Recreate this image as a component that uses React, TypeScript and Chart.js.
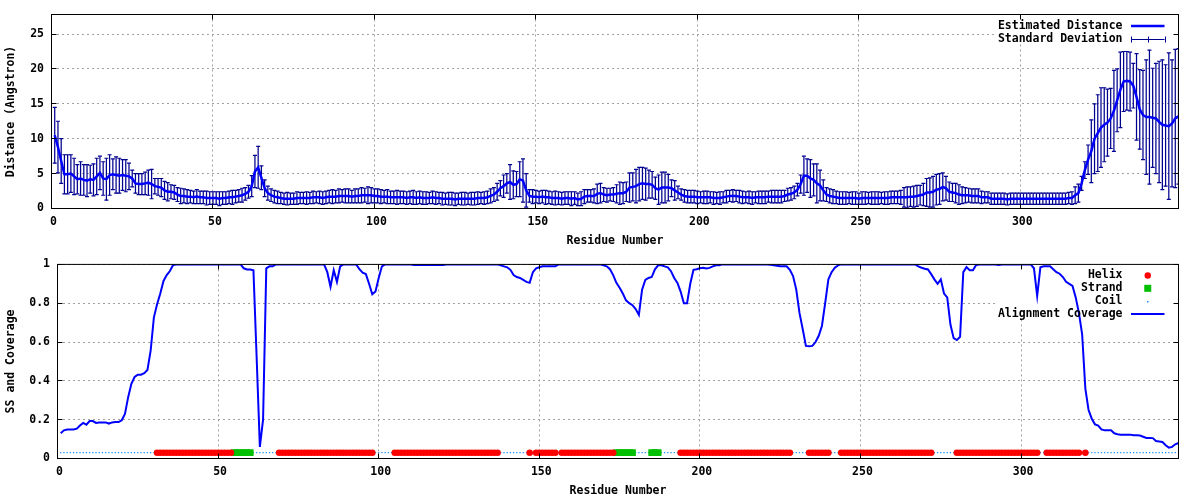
import { useEffect, useRef } from "react";
import { Chart, registerables } from "chart.js";

Chart.register(...registerables);

// ---------- data (residues 1..349) ----------
const distance = [
  10.5, 8.8, 6.8, 4.9, 4.9, 5.0, 4.6, 4.2, 4.3, 4.1, // 1-10
  4.0, 4.2, 4.1, 4.6, 5.1, 4.3, 4.2, 4.8, 4.9, 4.8, // 11-20
  4.7, 4.8, 4.7, 4.6, 4.3, 3.6, 3.5, 3.5, 3.6, 3.7, // 21-30
  3.5, 3.2, 3.1, 3.0, 2.6, 2.4, 2.4, 2.3, 2.0, 1.8, // 31-40
  1.8, 1.7, 1.7, 1.6, 1.7, 1.6, 1.6, 1.5, 1.5, 1.5, // 41-50
  1.5, 1.4, 1.5, 1.5, 1.6, 1.6, 1.7, 1.8, 1.9, 2.1, // 51-60
  2.4, 3.2, 5.3, 5.9, 4.4, 2.9, 2.2, 1.9, 1.7, 1.6, // 61-70
  1.5, 1.4, 1.4, 1.4, 1.4, 1.5, 1.5, 1.5, 1.5, 1.5, // 71-80
  1.6, 1.6, 1.6, 1.5, 1.6, 1.7, 1.7, 1.7, 1.8, 1.8, // 81-90
  1.8, 1.8, 1.7, 1.8, 1.8, 1.9, 1.9, 1.9, 1.9, 1.8, // 91-100
  1.8, 1.7, 1.7, 1.7, 1.6, 1.6, 1.6, 1.6, 1.6, 1.5, // 101-110
  1.6, 1.6, 1.5, 1.6, 1.5, 1.5, 1.5, 1.6, 1.5, 1.5, // 111-120
  1.4, 1.4, 1.4, 1.4, 1.3, 1.4, 1.4, 1.4, 1.4, 1.4, // 121-130
  1.4, 1.5, 1.5, 1.5, 1.6, 1.8, 2.0, 2.4, 2.9, 3.2, // 131-140
  3.6, 3.8, 3.4, 3.5, 4.2, 4.0, 2.6, 1.8, 1.7, 1.7, // 141-150
  1.6, 1.7, 1.6, 1.6, 1.5, 1.5, 1.5, 1.4, 1.5, 1.5, // 151-160
  1.4, 1.5, 1.3, 1.4, 1.7, 1.8, 1.8, 1.8, 2.1, 2.2, // 161-170
  2.0, 1.9, 2.0, 2.0, 2.1, 2.2, 2.2, 2.4, 3.0, 3.1, // 171-180
  3.2, 3.5, 3.6, 3.5, 3.5, 3.4, 2.9, 2.7, 3.0, 3.0, // 181-190
  3.0, 2.9, 2.6, 2.3, 2.0, 1.8, 1.7, 1.7, 1.7, 1.6, // 191-200
  1.6, 1.6, 1.6, 1.6, 1.5, 1.5, 1.5, 1.6, 1.7, 1.8, // 201-210
  1.8, 1.8, 1.7, 1.6, 1.6, 1.6, 1.5, 1.6, 1.6, 1.6, // 211-220
  1.6, 1.7, 1.7, 1.7, 1.7, 1.7, 1.8, 2.0, 2.1, 2.3, // 221-230
  2.7, 3.5, 4.7, 4.7, 4.3, 4.1, 3.6, 3.3, 2.6, 2.0, // 231-240
  1.8, 1.7, 1.6, 1.5, 1.5, 1.5, 1.5, 1.5, 1.5, 1.4, // 241-250
  1.5, 1.5, 1.5, 1.5, 1.5, 1.5, 1.5, 1.5, 1.5, 1.6, // 251-260
  1.6, 1.6, 1.6, 1.6, 1.6, 1.7, 1.7, 1.8, 1.9, 2.0, // 261-270
  2.3, 2.3, 2.4, 2.7, 2.8, 3.1, 2.9, 2.4, 2.3, 2.2, // 271-280
  2.0, 1.9, 1.9, 1.9, 1.8, 1.8, 1.8, 1.6, 1.6, 1.6, // 281-290
  1.4, 1.4, 1.4, 1.4, 1.4, 1.3, 1.4, 1.4, 1.4, 1.4, // 291-300
  1.4, 1.4, 1.4, 1.4, 1.4, 1.4, 1.4, 1.4, 1.4, 1.4, // 301-310
  1.4, 1.4, 1.4, 1.4, 1.5, 1.5, 1.9, 2.2, 3.6, 5.5, // 311-320
  7.0, 8.2, 10.0, 10.8, 11.6, 12.0, 12.3, 12.9, 14.0, 15.5, // 321-330
  17.0, 18.2, 18.3, 18.2, 17.6, 16.0, 14.2, 13.4, 13.1, 13.1, // 331-340
  13.0, 12.9, 12.4, 12.0, 11.9, 11.8, 12.2, 12.9, 13.2, // 341-349
];

const stdDev = [
  4.0, 3.7, 3.2, 2.8, 2.8, 2.7, 2.6, 2.1, 2.4, 2.2, // 1-10
  2.3, 2.0, 2.3, 2.6, 2.4, 2.4, 3.0, 2.9, 2.2, 2.6, // 11-20
  2.5, 2.2, 2.3, 1.9, 1.2, 1.4, 1.5, 1.5, 1.6, 1.8, // 21-30
  2.1, 1.1, 1.2, 1.3, 1.3, 1.3, 1.0, 1.0, 1.0, 1.1, // 31-40
  1.0, 1.0, 0.9, 0.9, 1.0, 0.9, 0.9, 1.0, 0.9, 0.9, // 41-50
  0.9, 1.0, 0.9, 0.9, 0.9, 1.0, 0.9, 0.9, 1.0, 0.9, // 51-60
  0.9, 1.5, 2.3, 3.0, 1.7, 1.2, 1.0, 0.9, 0.9, 0.9, // 61-70
  0.8, 0.8, 0.9, 0.8, 0.8, 0.9, 0.8, 0.8, 0.9, 0.8, // 71-80
  0.9, 0.8, 0.9, 0.9, 0.9, 0.9, 1.0, 0.9, 1.0, 0.9, // 81-90
  1.0, 1.0, 0.9, 1.0, 1.0, 1.1, 1.0, 1.2, 1.1, 1.0, // 91-100
  1.0, 1.0, 0.9, 1.0, 0.9, 0.9, 1.0, 0.9, 0.9, 0.9, // 101-110
  0.9, 1.0, 0.9, 0.9, 0.9, 0.9, 0.8, 0.9, 0.9, 0.8, // 111-120
  0.9, 0.8, 0.9, 0.9, 0.9, 0.8, 0.9, 0.9, 0.8, 0.9, // 121-130
  0.9, 0.9, 0.8, 0.9, 0.9, 1.0, 1.0, 1.2, 1.1, 1.6, // 131-140
  1.4, 2.5, 2.0, 1.8, 2.5, 3.1, 2.4, 0.9, 1.0, 0.9, // 141-150
  0.9, 0.9, 1.0, 0.9, 0.9, 1.0, 0.9, 0.9, 0.9, 0.9, // 151-160
  1.0, 0.9, 0.9, 1.0, 1.0, 0.9, 0.9, 1.0, 1.4, 1.4, // 161-170
  1.0, 1.0, 0.9, 1.0, 1.3, 1.6, 1.5, 1.4, 2.1, 2.0, // 171-180
  2.4, 2.4, 2.3, 2.3, 2.0, 1.9, 1.6, 2.1, 2.2, 2.2, // 181-190
  1.9, 1.2, 1.4, 0.9, 0.8, 0.9, 0.9, 0.9, 0.9, 0.9, // 191-200
  0.8, 0.9, 0.9, 0.8, 0.9, 0.8, 0.9, 0.8, 0.9, 0.8, // 201-210
  0.9, 0.8, 0.9, 0.9, 0.8, 0.9, 0.9, 0.8, 0.9, 0.9, // 211-220
  0.9, 0.8, 0.9, 0.9, 0.9, 0.9, 0.8, 0.9, 0.9, 0.9, // 221-230
  0.9, 1.3, 2.8, 2.4, 2.7, 2.3, 2.8, 2.2, 1.5, 1.0, // 231-240
  1.0, 1.0, 0.9, 0.9, 0.9, 0.9, 0.8, 0.9, 0.9, 0.8, // 241-250
  0.9, 0.9, 0.8, 0.9, 0.9, 0.9, 0.8, 0.9, 0.9, 0.9, // 251-260
  0.9, 0.9, 1.0, 1.4, 1.5, 1.4, 1.5, 1.5, 1.4, 1.6, // 261-270
  2.0, 2.1, 2.2, 2.2, 2.2, 2.0, 1.7, 1.4, 1.3, 1.4, // 271-280
  1.4, 1.2, 1.1, 1.0, 1.0, 1.0, 1.0, 0.9, 0.8, 0.8, // 281-290
  0.8, 0.8, 0.8, 0.8, 0.8, 0.8, 0.8, 0.8, 0.8, 0.8, // 291-300
  0.8, 0.8, 0.8, 0.8, 0.8, 0.8, 0.8, 0.8, 0.8, 0.8, // 301-310
  0.8, 0.8, 0.8, 0.8, 0.8, 0.9, 1.2, 1.3, 1.0, 1.2, // 311-320
  2.1, 4.5, 5.0, 5.5, 5.7, 5.3, 4.8, 4.3, 5.8, 4.5, // 321-330
  5.4, 4.3, 4.2, 4.2, 3.2, 6.2, 5.7, 6.4, 8.2, 9.6, // 331-340
  7.1, 7.9, 8.7, 9.3, 8.7, 10.5, 9.1, 9.9, 9.7, // 341-349
];

const coverage = [
  0.13, 0.145, 0.149, 0.149, 0.149, 0.154, 0.17, 0.183, 0.174, 0.193, // 1-10
  0.193, 0.183, 0.186, 0.186, 0.186, 0.18, 0.186, 0.188, 0.188, 0.197, // 11-20
  0.23, 0.316, 0.385, 0.42, 0.432, 0.432, 0.44, 0.456, 0.556, 0.726, // 21-30
  0.795, 0.85, 0.915, 0.945, 0.966, 0.997, 1, 1, 1, 1, // 31-40
  1, 1, 1, 1, 1, 1, 1, 1, 1, 1, // 41-50
  1, 1, 1, 1, 1, 1, 1, 0.98, 0.974, 0.974, // 51-60
  0.97, 0.52, 0.06, 0.2, 0.98, 0.99, 0.99, 1, 1, 1, // 61-70
  1, 1, 1, 1, 1, 1, 1, 1, 1, 1, // 71-80
  1, 1, 1, 0.96, 0.885, 0.97, 0.91, 0.99, 1, 1, // 81-90
  1, 1, 1, 0.975, 0.957, 0.95, 0.9, 0.846, 0.86, 0.93, // 91-100
  0.99, 1, 1, 1, 1, 1, 1, 1, 1, 1, // 101-110
  0.997, 0.997, 0.997, 0.997, 0.997, 0.997, 0.997, 0.997, 0.997, 0.997, // 111-120
  1, 1, 1, 1, 1, 1, 1, 1, 1, 1, // 121-130
  1, 1, 1, 1, 1, 1, 1, 0.995, 0.99, 0.985, // 131-140
  0.972, 0.945, 0.935, 0.93, 0.92, 0.91, 0.905, 0.96, 0.98, 0.985, // 141-150
  0.99, 0.99, 0.99, 0.99, 0.99, 1, 1, 1, 1, 1, // 151-160
  1, 1, 1, 1, 1, 1, 1, 1, 1, 0.995, // 161-170
  0.99, 0.975, 0.945, 0.905, 0.88, 0.85, 0.815, 0.8, 0.79, 0.77, // 171-180
  0.74, 0.87, 0.92, 0.93, 0.935, 0.975, 0.995, 0.995, 0.99, 0.985, // 181-190
  0.965, 0.93, 0.905, 0.86, 0.8, 0.8, 0.9, 0.972, 0.975, 0.98, // 191-200
  0.983, 0.979, 0.982, 0.99, 0.995, 0.995, 1, 1, 1, 1, // 201-210
  1, 1, 1, 1, 1, 1, 1, 1, 1, 1, // 211-220
  1, 0.998, 0.995, 0.993, 0.99, 0.99, 0.99, 0.972, 0.94, 0.87, // 221-230
  0.75, 0.667, 0.58, 0.578, 0.58, 0.6, 0.632, 0.684, 0.8, 0.923, // 231-240
  0.96, 0.983, 0.995, 1, 1, 1, 1, 1, 1, 1, // 241-250
  1, 1, 1, 1, 1, 1, 1, 1, 1, 1, // 251-260
  1, 1, 1, 1, 1, 1, 1, 0.99, 0.983, 0.978, // 261-270
  0.974, 0.95, 0.923, 0.9, 0.923, 0.85, 0.83, 0.69, 0.62, 0.61, // 271-280
  0.627, 0.96, 0.986, 0.97, 0.97, 0.997, 1, 1, 1, 1, // 281-290
  1, 1, 0.997, 1, 1, 1, 1, 1, 1, 1, // 291-300
  1, 1, 1, 0.98, 0.838, 0.985, 0.99, 0.99, 0.99, 0.975, // 301-310
  0.96, 0.952, 0.935, 0.91, 0.9, 0.889, 0.83, 0.75, 0.64, 0.36, // 311-320
  0.25, 0.205, 0.176, 0.17, 0.15, 0.145, 0.145, 0.145, 0.13, 0.125, // 321-330
  0.123, 0.123, 0.123, 0.123, 0.12, 0.12, 0.118, 0.112, 0.106, 0.106, // 331-340
  0.105, 0.09, 0.088, 0.085, 0.068, 0.056, 0.06, 0.073, 0.08, // 341-349
];

// secondary structure segments [first residue, last residue]
const helixRanges = [
  [31, 54], [69, 98], [105, 137], [147, 147], [149, 155], [157, 173],
  [194, 228], [234, 240], [244, 272], [280, 305], [308, 318], [320, 320],
];
const strandRanges = [[55, 60], [174, 179], [185, 187]];
const ssTrackLevel = 0.03;

const residueTicks = [0, 50, 100, 150, 200, 250, 300];
const distanceTicks = [0, 5, 10, 15, 20, 25];
const coverageTicks = [0, 0.2, 0.4, 0.6, 0.8, 1];
const residueMax = 349;
const distanceMax = 27.8;

// ---------- derived structures ----------
const residues = distance.map((_, i) => i + 1);
const inRanges = (r: number, ranges: number[][]) => ranges.some(([a, b]) => r >= a && r <= b);
const helixRes = residues.filter((r) => inRanges(r, helixRanges));
const strandRes = residues.filter((r) => inRanges(r, strandRanges));
const coilRes = residues.filter((r) => !inRanges(r, helixRanges) && !inRanges(r, strandRanges));

const FONT_FAMILY = '"DejaVu Sans Mono", "Liberation Mono", monospace';
const FONT = { family: FONT_FAMILY, size: 11.5, weight: "bold" as const };
const CSS_FONT = `bold 11.5px ${FONT_FAMILY}`;
const GRID_COLOR = "#a0a0a0";
const BAR_COLOR = "#000090";
const LINE_BLUE = "#0000ff";
const HELIX_RED = "#ff0000";
const STRAND_GREEN = "#00c000";
const COIL_BLUE = "#1e90ff";

// frame with inward (mirrored) tics, gnuplot style
const framePlugin = {
  id: "gnuFrame",
  afterDatasetsDraw(chart: any) {
    const { ctx, chartArea: a, scales } = chart;
    const T = 5;
    const al = (p: number) => Math.round(p - 0.5) + 0.5;
    ctx.save();
    ctx.strokeStyle = "#000";
    ctx.lineWidth = 1;
    ctx.setLineDash([]);
    ctx.beginPath();
    scales.y.ticks.forEach((t: any) => {
      const y = al(scales.y.getPixelForValue(t.value));
      ctx.moveTo(a.left, y);
      ctx.lineTo(a.left + T, y);
      ctx.moveTo(a.right, y);
      ctx.lineTo(a.right - T, y);
    });
    scales.x.ticks.forEach((t: any) => {
      const x = al(scales.x.getPixelForValue(t.value));
      ctx.moveTo(x, a.bottom);
      ctx.lineTo(x, a.bottom - T);
      ctx.moveTo(x, a.top);
      ctx.lineTo(x, a.top + T);
    });
    ctx.stroke();
    ctx.strokeRect(a.left, a.top, a.right - a.left, a.bottom - a.top);
    ctx.restore();
  },
};

// gnuplot-like key: right-aligned text, sample on the right, opaque box
const keyPlugin = {
  id: "gnuKey",
  beforeDatasetsDraw(chart: any, _args: any, opts: any) {
    if (!opts || !opts.box) return;
    const { ctx } = chart;
    const [x, y, w, h] = opts.box;
    ctx.save();
    ctx.fillStyle = "#fff";
    ctx.fillRect(x, y, w, h);
    ctx.restore();
  },
  afterDraw(chart: any, _args: any, opts: any) {
    if (!opts || !opts.items) return;
    const { ctx } = chart;
    ctx.save();
    ctx.font = CSS_FONT;
    ctx.textAlign = "right";
    ctx.textBaseline = "middle";
    const x1 = opts.sampleLeft;
    const x2 = opts.sampleRight;
    const xc = (x1 + x2) / 2;
    opts.items.forEach((it: any, i: number) => {
      const y = opts.top + i * opts.rowHeight;
      ctx.fillStyle = "#000";
      ctx.fillText(it.label, opts.textRight, y);
      if (it.kind === "line") {
        ctx.strokeStyle = it.color;
        ctx.lineWidth = it.width;
        ctx.beginPath();
        ctx.moveTo(x1, y);
        ctx.lineTo(x2, y);
        ctx.stroke();
      } else if (it.kind === "errorbar") {
        const yy = Math.round(y) + 0.5;
        ctx.strokeStyle = it.color;
        ctx.lineWidth = 1;
        ctx.beginPath();
        ctx.moveTo(x1, yy);
        ctx.lineTo(x2, yy);
        [x1, xc, x2].forEach((xx) => {
          const px = Math.round(xx) + 0.5;
          ctx.moveTo(px, yy - 3);
          ctx.lineTo(px, yy + 3);
        });
        ctx.stroke();
      } else if (it.kind === "dot") {
        ctx.fillStyle = it.color;
        ctx.beginPath();
        ctx.arc(xc, y, 3.2, 0, Math.PI * 2);
        ctx.fill();
      } else if (it.kind === "square") {
        ctx.fillStyle = it.color;
        ctx.fillRect(xc - 3.5, y - 3.5, 7, 7);
      } else if (it.kind === "pixel") {
        ctx.fillStyle = it.color;
        ctx.fillRect(Math.round(xc) - 1, Math.round(y), 1.5, 1.5);
      }
    });
    ctx.restore();
  },
};

function xScale() {
  return {
    type: "linear" as const,
    min: 0,
    max: residueMax,
    afterBuildTicks: (s: any) => {
      s.ticks = residueTicks.map((v) => ({ value: v }));
    },
    afterFit: (s: any) => {
      s.height = 41.5;
    },
    grid: { color: GRID_COLOR, lineWidth: 1, drawTicks: false },
    border: { display: false, dash: [2, 3] },
    ticks: {
      font: FONT,
      color: "#000",
      padding: 6.5,
      labelOffset: 2,
      maxRotation: 0,
      autoSkip: false,
      callback: (v: any) => String(v),
    },
    title: {
      display: true,
      text: "Residue Number",
      font: FONT,
      color: "#000",
      padding: { top: 0, bottom: 2.5 },
    },
  };
}

function yScale(max: number, tickValues: number[], width: number, title: string) {
  return {
    type: "linear" as const,
    min: 0,
    max,
    afterBuildTicks: (s: any) => {
      s.ticks = tickValues.map((v) => ({ value: v }));
    },
    afterFit: (s: any) => {
      s.width = width;
    },
    grid: { color: GRID_COLOR, lineWidth: 1, drawTicks: false },
    border: { display: false, dash: [2, 3] },
    ticks: {
      font: FONT,
      color: "#000",
      padding: 7.5,
      callback: (v: any) => String(v),
    },
    title: {
      display: true,
      text: title,
      font: FONT,
      color: "#000",
      padding: { top: 4, bottom: 0 },
    },
  };
}

function topConfig(): any {
  const errorSegments: any[] = [];
  residues.forEach((r, i) => {
    errorSegments.push({ x: r, y: distance[i] - stdDev[i] });
    errorSegments.push({ x: r, y: distance[i] + stdDev[i] });
    errorSegments.push({ x: r, y: null });
  });
  const capStyle = {
    type: "line",
    showLine: false,
    pointStyle: "line",
    pointRadius: 2,
    pointBorderColor: BAR_COLOR,
    pointBorderWidth: 1.2,
    order: 2,
  };
  return {
    type: "line",
    data: {
      datasets: [
        {
          label: "Estimated Distance",
          data: residues.map((r, i) => ({ x: r, y: distance[i] })),
          borderColor: LINE_BLUE,
          borderWidth: 2.5,
          pointRadius: 0,
          tension: 0,
          order: 0,
        },
        {
          label: "Standard Deviation",
          data: errorSegments,
          borderColor: BAR_COLOR,
          borderWidth: 1.25,
          pointRadius: 0,
          spanGaps: false,
          order: 1,
        },
        { ...capStyle, label: "sd-low", data: residues.map((r, i) => ({ x: r, y: distance[i] - stdDev[i] })) },
        { ...capStyle, label: "sd-high", data: residues.map((r, i) => ({ x: r, y: distance[i] + stdDev[i] })) },
      ],
    },
    options: {
      responsive: false,
      maintainAspectRatio: false,
      animation: false,
      events: [],
      layout: { padding: { left: 0, top: 14.5, right: 21.5, bottom: 0 } },
      plugins: {
        legend: { display: false },
        tooltip: { enabled: false },
        gnuKey: {
          box: [995, 15, 183, 29],
          textRight: 1122.5,
          sampleLeft: 1131,
          sampleRight: 1164.5,
          top: 26,
          rowHeight: 13,
          items: [
            { label: "Estimated Distance", kind: "line", color: LINE_BLUE, width: 2.5 },
            { label: "Standard Deviation", kind: "errorbar", color: BAR_COLOR },
          ],
        },
      },
      scales: {
        x: xScale(),
        y: yScale(distanceMax, distanceTicks, 51.5, "Distance (Angstron)"),
      },
    },
    plugins: [framePlugin, keyPlugin],
  };
}

function bottomConfig(): any {
  const ssPoint = (r: number) => ({ x: r, y: ssTrackLevel });
  return {
    type: "line",
    data: {
      datasets: [
        {
          label: "Alignment Coverage",
          data: residues.map((r, i) => ({ x: r, y: coverage[i] })),
          borderColor: LINE_BLUE,
          borderWidth: 2,
          pointRadius: 0,
          tension: 0,
          order: 0,
        },
        {
          label: "Helix",
          data: helixRes.map(ssPoint),
          showLine: false,
          pointStyle: "circle",
          pointRadius: 3.3,
          pointBackgroundColor: HELIX_RED,
          pointBorderWidth: 0,
          order: 2,
        },
        {
          label: "Strand",
          data: strandRes.map(ssPoint),
          showLine: false,
          pointStyle: "rect",
          pointRadius: 4.8,
          pointBackgroundColor: STRAND_GREEN,
          pointBorderWidth: 0,
          order: 2,
        },
        {
          label: "Coil",
          data: coilRes.map(ssPoint),
          showLine: false,
          pointStyle: "rect",
          pointRadius: 0.9,
          pointBackgroundColor: COIL_BLUE,
          pointBorderWidth: 0,
          order: 3,
        },
      ],
    },
    options: {
      responsive: false,
      maintainAspectRatio: false,
      animation: false,
      events: [],
      layout: { padding: { left: 0, top: 13.5, right: 21.5, bottom: 0 } },
      plugins: {
        legend: { display: false },
        tooltip: { enabled: false },
        gnuKey: {
          box: [997, 14, 181, 53],
          textRight: 1122.5,
          sampleLeft: 1131,
          sampleRight: 1164.5,
          top: 25.5,
          rowHeight: 12.8,
          items: [
            { label: "Helix", kind: "dot", color: HELIX_RED },
            { label: "Strand", kind: "square", color: STRAND_GREEN },
            { label: "Coil", kind: "pixel", color: COIL_BLUE },
            { label: "Alignment Coverage", kind: "line", color: LINE_BLUE, width: 2 },
          ],
        },
      },
      scales: {
        x: xScale(),
        y: yScale(1, coverageTicks, 57.5, "SS and Coverage"),
      },
    },
    plugins: [framePlugin, keyPlugin],
  };
}

export default function App() {
  const topRef = useRef<HTMLCanvasElement>(null);
  const bottomRef = useRef<HTMLCanvasElement>(null);

  useEffect(() => {
    const top = new Chart(topRef.current as HTMLCanvasElement, topConfig());
    const bottom = new Chart(bottomRef.current as HTMLCanvasElement, bottomConfig());
    return () => {
      top.destroy();
      bottom.destroy();
    };
  }, []);

  return (
    <div style={{ position: "fixed", left: 0, top: 0, width: 1200, height: 500, background: "#fff" }}>
      <canvas ref={topRef} width={1200} height={250} style={{ display: "block", width: 1200, height: 250 }} />
      <canvas ref={bottomRef} width={1200} height={250} style={{ display: "block", width: 1200, height: 250 }} />
    </div>
  );
}
